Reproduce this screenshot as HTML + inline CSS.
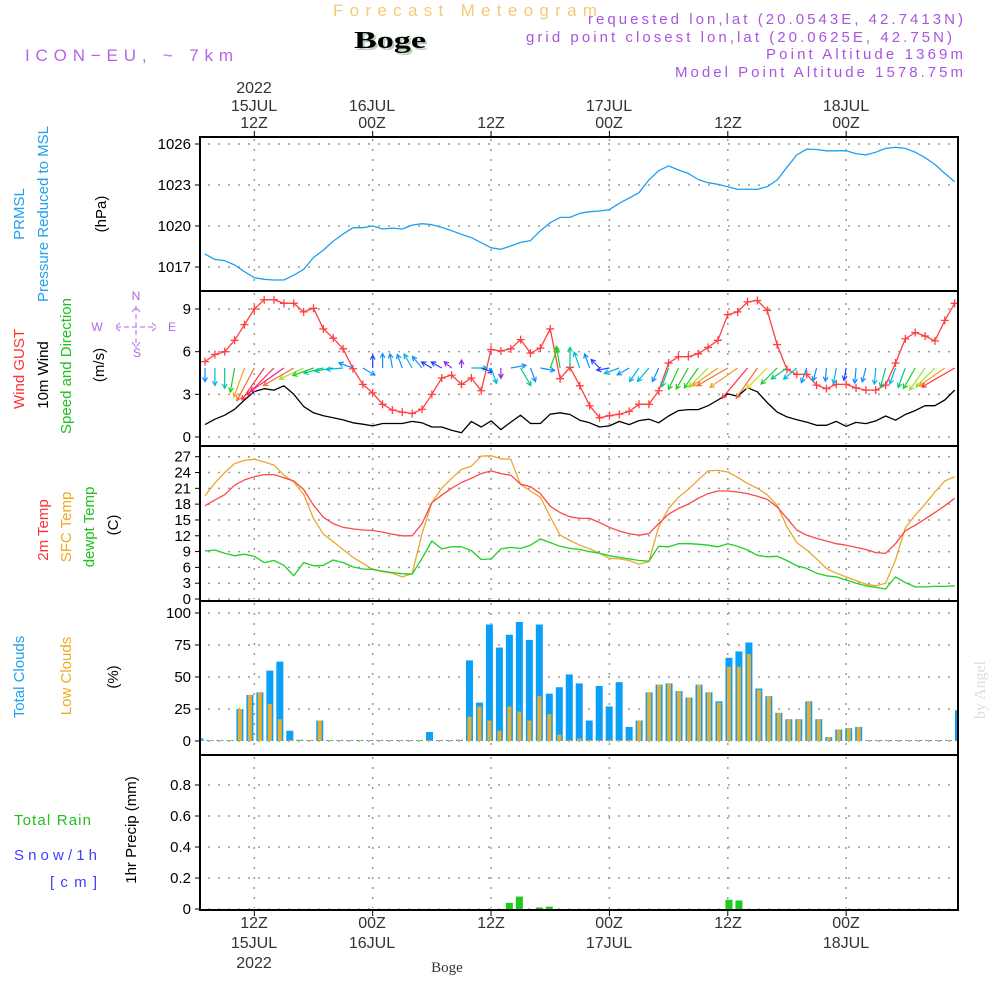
<!DOCTYPE html>
<html><head><meta charset="utf-8"><style>
html,body{margin:0;padding:0;background:#fff;}
svg{display:block;font-family:"Liberation Sans",sans-serif;}
</style></head><body>
<svg id="chart" xmlns="http://www.w3.org/2000/svg" width="1000" height="1000" viewBox="0 0 1000 1000">
<rect x="0" y="0" width="1000" height="1000" fill="#fff"/>
<g id="header">
<text x="333" y="16" font-size="17" fill="#f5c97a" textLength="264" lengthAdjust="spacing">Forecast Meteogram</text>
<text x="356" y="50" font-size="24" font-weight="bold" font-family="Liberation Serif,serif" fill="#b8d0b8" textLength="72" lengthAdjust="spacingAndGlyphs">Boge</text>
<text x="354" y="48" font-size="24" font-weight="bold" font-family="Liberation Serif,serif" fill="#000" textLength="72" lengthAdjust="spacingAndGlyphs">Boge</text>
<text x="25" y="61" font-size="17" fill="#b565e8" textLength="208" lengthAdjust="spacing">ICON−EU, ~ 7km</text>
<text x="588" y="24" font-size="15" fill="#a855e0" textLength="375" lengthAdjust="spacing">requested lon,lat (20.0543E, 42.7413N)</text>
<text x="526" y="42" font-size="15" fill="#a855e0" textLength="426" lengthAdjust="spacing">grid point closest lon,lat (20.0625E, 42.75N)</text>
<text x="766" y="59" font-size="15" fill="#a855e0" textLength="197" lengthAdjust="spacing">Point Altitude 1369m</text>
<text x="675" y="77" font-size="15" fill="#a855e0" textLength="288" lengthAdjust="spacing">Model Point Altitude 1578.75m</text>
</g>
<g id="leftlabels" font-size="15">
<text transform="translate(24,214) rotate(-90)" text-anchor="middle" fill="#20a0f0">PRMSL</text>
<text transform="translate(48,214) rotate(-90)" text-anchor="middle" fill="#20a0f0">Pressure Reduced to MSL</text>
<text transform="translate(106,214) rotate(-90)" text-anchor="middle" fill="#000">(hPa)</text>
<text transform="translate(24,369) rotate(-90)" text-anchor="middle" fill="#ff3030">Wind GUST</text>
<text transform="translate(48,375) rotate(-90)" text-anchor="middle" fill="#000">10m Wind</text>
<text transform="translate(71,366) rotate(-90)" text-anchor="middle" fill="#20c020">Speed and Direction</text>
<text transform="translate(104,365) rotate(-90)" text-anchor="middle" fill="#000">(m/s)</text>
<text transform="translate(48,530) rotate(-90)" text-anchor="middle" fill="#ff3030">2m Temp</text>
<text transform="translate(71,527) rotate(-90)" text-anchor="middle" fill="#f0a820">SFC Temp</text>
<text transform="translate(94,527) rotate(-90)" text-anchor="middle" fill="#20c020">dewpt Temp</text>
<text transform="translate(118,525) rotate(-90)" text-anchor="middle" fill="#000">(C)</text>
<text transform="translate(24,677) rotate(-90)" text-anchor="middle" fill="#20a0f0">Total Clouds</text>
<text transform="translate(71,676) rotate(-90)" text-anchor="middle" fill="#f0a820">Low Clouds</text>
<text transform="translate(118,677) rotate(-90)" text-anchor="middle" fill="#000">(%)</text>
<text transform="translate(136,830) rotate(-90)" text-anchor="middle" fill="#000">1hr Precip (mm)</text>
<text x="14" y="825" fill="#20c020" font-size="15" textLength="77" lengthAdjust="spacing">Total  Rain</text>
<text x="14" y="860" fill="#4040ff" font-size="15" textLength="83" lengthAdjust="spacing">Snow/1h</text>
<text x="50" y="887" fill="#4040ff" font-size="15" textLength="47" lengthAdjust="spacing">[cm]</text>
<text transform="translate(985,690) rotate(-90)" text-anchor="middle" fill="#dcdcdc" font-family="Liberation Serif,serif" font-size="16">by Angel</text>
</g>
<g id="compass" fill="#b565e8" font-size="12">
<text x="136" y="300" text-anchor="middle">N</text>
<text x="137" y="357" text-anchor="middle">S</text>
<text x="97" y="331" text-anchor="middle">W</text>
<text x="172" y="331" text-anchor="middle">E</text>
<path d="M116 327 H156 M136 306 V348 M120 323 L115 327 L120 331 M152 323 L157 327 L152 331 M132 312 L136 307 L140 312 M132 342 L136 347 L140 342" stroke="#b565e8" stroke-width="1" fill="none" stroke-dasharray="5 3"/>
</g>
<g id="plots"></g>
<g id="timelabels" font-size="16" fill="#333">
<text x="254" y="93" text-anchor="middle">2022</text>
<text x="254" y="111" text-anchor="middle">15JUL</text>
<text x="254" y="128" text-anchor="middle">12Z</text>
<text x="372" y="111" text-anchor="middle">16JUL</text>
<text x="372" y="128" text-anchor="middle">00Z</text>
<text x="491" y="128" text-anchor="middle">12Z</text>
<text x="609" y="111" text-anchor="middle">17JUL</text>
<text x="609" y="128" text-anchor="middle">00Z</text>
<text x="728" y="128" text-anchor="middle">12Z</text>
<text x="846" y="111" text-anchor="middle">18JUL</text>
<text x="846" y="128" text-anchor="middle">00Z</text>
<text x="254" y="928" text-anchor="middle">12Z</text>
<text x="254" y="948" text-anchor="middle">15JUL</text>
<text x="254" y="968" text-anchor="middle">2022</text>
<text x="372" y="928" text-anchor="middle">00Z</text>
<text x="372" y="948" text-anchor="middle">16JUL</text>
<text x="491" y="928" text-anchor="middle">12Z</text>
<text x="609" y="928" text-anchor="middle">00Z</text>
<text x="609" y="948" text-anchor="middle">17JUL</text>
<text x="728" y="928" text-anchor="middle">12Z</text>
<text x="846" y="928" text-anchor="middle">00Z</text>
<text x="846" y="948" text-anchor="middle">18JUL</text>
<text x="447" y="972" text-anchor="middle" font-size="15" font-family="Liberation Serif,serif">Boge</text>
</g>
</svg>
<script>
const pressure=[1017.95,1017.56,1017.46,1017.15,1016.66,1016.22,1016.1,1016.05,1016.05,1016.4,1016.83,1017.7,1018.24,1018.9,1019.41,1019.88,1019.88,1020.0,1019.78,1019.85,1019.78,1020.07,1020.17,1020.1,1019.9,1019.66,1019.39,1019.15,1018.78,1018.41,1018.3,1018.54,1018.8,1018.93,1019.66,1020.24,1020.63,1020.63,1020.93,1021.05,1021.1,1021.2,1021.66,1022.05,1022.44,1023.37,1024.05,1024.4,1024.1,1023.85,1023.4,1023.17,1023.05,1022.88,1022.68,1022.7,1022.68,1022.88,1023.37,1024.3,1025.2,1025.63,1025.6,1025.5,1025.5,1025.5,1025.3,1025.2,1025.4,1025.68,1025.76,1025.68,1025.4,1025.0,1024.5,1023.85,1023.24];
const windGust=[5.3,5.8,6.0,6.8,7.9,9.0,9.65,9.65,9.4,9.4,8.8,9.05,7.6,6.95,6.2,4.8,3.7,3.1,2.3,1.9,1.75,1.65,1.95,3.0,4.15,4.35,3.7,4.15,3.25,6.15,6.05,6.2,6.85,5.9,6.25,7.6,4.1,4.9,3.6,2.2,1.35,1.5,1.6,1.8,2.3,2.3,3.25,5.2,5.65,5.65,5.85,6.3,6.8,8.6,8.8,9.5,9.6,8.9,6.5,4.75,4.4,4.4,3.65,3.4,3.7,3.7,3.45,3.3,3.3,3.65,5.2,6.9,7.35,7.1,6.75,8.2,9.4];
const windSpeed=[0.87,1.25,1.53,1.95,2.6,3.2,3.4,3.3,3.6,3.0,2.15,1.7,1.5,1.35,1.2,1.0,0.9,0.78,0.95,0.95,0.95,1.1,1.0,0.7,0.7,0.47,0.3,1.1,0.7,1.13,0.52,1.05,1.53,0.95,0.95,1.6,1.7,1.58,1.18,1.0,0.7,0.78,1.1,0.87,1.15,1.25,1.0,1.48,1.86,1.93,1.93,2.2,2.6,3.03,2.87,3.46,3.18,2.42,1.76,1.41,1.22,1.05,0.82,0.82,1.1,0.75,1.03,0.94,1.13,1.48,1.18,1.58,1.86,2.2,2.2,2.6,3.3];
const windToDeg=[180,180,180,190,200,208,215,225,235,240,245,250,255,260,265,290,120,0,0,350,340,330,320,300,300,310,0,90,110,160,180,80,150,160,100,20,350,0,340,340,315,260,250,240,215,220,205,200,205,210,215,225,235,240,235,220,215,225,225,235,230,200,195,185,190,190,185,195,185,195,200,200,210,215,225,235,240];
const temp2m=[17.7,18.8,19.8,21.6,22.6,23.2,23.6,23.6,23.0,22.4,20.8,17.8,15.5,14.3,13.6,13.3,13.1,13.0,12.7,12.3,12.0,12.0,14.3,18.3,19.7,21.0,22.1,22.9,23.8,24.3,23.8,23.5,21.8,21.3,20.0,17.6,16.4,15.6,15.3,15.3,14.5,13.6,12.9,12.4,12.1,12.4,14.3,16.1,17.2,18.0,19.1,20.0,20.5,20.5,20.3,20.0,19.5,18.9,17.5,15.3,13.1,12.1,11.5,11.0,10.5,10.2,9.8,9.4,8.8,8.65,10.5,12.95,14.0,15.2,16.4,17.7,19.1];
const tempSfc=[19.6,22.0,24.0,25.7,26.3,26.5,26.0,25.4,23.5,22.2,19.9,15.3,12.3,10.9,9.4,7.9,6.8,5.6,5.2,4.9,4.2,4.8,12.4,18.3,21.0,22.9,24.6,25.2,27.1,27.2,26.6,26.5,21.7,20.5,19.3,15.6,12.1,11.1,10.2,9.5,8.7,7.7,7.6,7.3,6.6,7.1,13.7,17.2,19.3,20.8,22.6,24.3,24.4,24.1,23.1,21.9,21.0,19.8,17.8,13.7,10.7,9.3,7.6,5.8,4.9,4.2,3.5,2.8,2.5,3.0,7.4,13.5,15.9,18.0,20.3,22.4,23.2];
const tempDew=[9.1,9.3,8.7,8.2,8.5,8.1,6.9,7.3,6.4,4.4,6.9,6.3,6.4,7.4,6.9,6.1,5.7,5.6,5.3,5.0,4.8,4.7,7.7,11.0,9.5,9.9,9.9,9.2,7.5,7.6,9.5,9.8,9.6,10.2,11.4,10.7,10.0,9.6,9.4,9.0,8.7,8.2,7.9,7.6,7.3,7.2,10.0,9.9,10.5,10.5,10.4,10.2,9.9,10.5,10.0,9.3,8.3,8.0,8.1,7.3,6.3,5.8,4.9,4.4,4.2,3.6,3.0,2.5,2.2,1.9,4.2,3.1,2.3,2.3,2.4,2.4,2.5];
const totalClouds=[2,0,0,0,25,36,38,55,62,8,1,0,16,0,0,0,0,0,0,0,0,0,0,7,0,0,1,63,30,91,73,83,93,79,91,37,42,52,45,16,43,27,46,11,16,38,44,45,39,34,44,38,31,65,70,77,41,35,22,17,17,31,17,3,9,10,11,0,0,0,0,0,0,0,0,0,24];
const lowClouds=[0,0,0,0,25,36,38,29,17,0,0,0,16,0,0,0,0,0,0,0,0,0,0,0,0,0,1,19,27,16,8,27,23,16,35,21,5,0,2,0,0,0,0,0,16,38,44,45,39,34,44,38,30,58,58,68,40,35,22,17,17,31,17,3,9,10,11,0,0,0,0,0,0,0,0,0,0];
const precip=[0,0,0,0,0,0,0,0,0,0,0,0,0,0,0,0,0,0,0,0,0,0,0,0,0,0,0,0,0,0,0,0.04,0.08,0,0.01,0.015,0,0,0,0,0,0,0,0,0,0,0,0,0,0,0,0,0,0.06,0.055,0,0,0,0,0,0,0,0,0,0,0,0,0,0,0,0,0,0,0,0,0,0];
const pressureTicks=[1017,1020,1023,1026];
const windTicks=[0,3,6,9];
const tempTicks=[0,3,6,9,12,15,18,21,24,27];
const cloudTicks=[0,25,50,75,100];
const precipTicks=[0,0.2,0.4,0.6,0.8];
const timeTickHours=[5,17,29,41,53,65];

const NS='http://www.w3.org/2000/svg';
const plots=document.getElementById('plots');
const X0=200,X1=958;
function xL(i){return 205+9.864*i;}
function xB(b){return 200+9.98*b;}
const yP=v=>144+(1026-v)*13.67;
const yW=v=>437-v*14.22;
const yT=v=>599-v*5.27;
const yC=v=>741-v*1.28;
const yR=v=>909-v*155;
const panels=[{t:137,b:291,n:'pressure'},{t:291,b:446,n:'wind'},{t:446,b:601,n:'temp'},{t:601,b:755,n:'clouds'},{t:755,b:910,n:'precip'}];
function mk(tag,attrs,parent){const e=document.createElementNS(NS,tag);for(const k in attrs)e.setAttribute(k,attrs[k]);(parent||plots).appendChild(e);return e;}

const defs=mk('defs',{});
const cp=mk('clipPath',{id:'plotclip'},defs);
mk('rect',{x:X0,y:137,width:X1-X0,height:773},cp);

panels.forEach(p=>{
  timeTickHours.forEach(h=>{
    const g=mk('line',{x1:xL(h),x2:xL(h),y1:p.t+2,y2:p.b-2,stroke:'#999','stroke-width':1.5,'stroke-dasharray':'2 8'});
    
    
  });
});
function hgrid(ticks,yf,name,fmt){
  ticks.forEach(t=>{
    const y=yf(t);
    const g=mk('line',{x1:X0+8,x2:X1-4,y1:y,y2:y,stroke:'#999','stroke-width':1.5,'stroke-dasharray':'2 8'});
    
    
    const tk=mk('line',{x1:X0-5,x2:X0,y1:y,y2:y,stroke:'#000','stroke-width':1});
    
    
    const lb=mk('text',{x:X0-9,y:y+5,'text-anchor':'end','font-size':15,fill:'#000'});
    lb.textContent=fmt?fmt(t):String(t);
    
    
  });
}
hgrid(pressureTicks,yP,'pressure-axis');
hgrid(windTicks,yW,'wind-axis');
hgrid(tempTicks,yT,'temp-axis');
hgrid(cloudTicks,yC,'cloud-axis');
hgrid(precipTicks,yR,'precip-axis',t=>t===0?'0':t.toFixed(1));

timeTickHours.forEach(h=>{
  const a=mk('line',{x1:xL(h),x2:xL(h),y1:131,y2:137,stroke:'#000','stroke-width':1});
  
  
  const b=mk('line',{x1:xL(h),x2:xL(h),y1:910,y2:916,stroke:'#000','stroke-width':1});
  
  
});

const clipG=mk('g',{'clip-path':'url(#plotclip)'});



function line(arr,yf,color,name,w){
  const d=arr.map((v,i)=>(i?'L':'M')+xL(i).toFixed(1)+' '+yf(v).toFixed(1)).join(' ');
  const p=mk('path',{d:d,fill:'none',stroke:color,'stroke-width':w||1.3,'stroke-linejoin':'round'},clipG);
  
  
}
line(pressure,yP,'#1ea0f0','pressure-line');
line(windSpeed,yW,'#000','wind-speed-line');
line(windGust,yW,'#ff4040','wind-gust-line');
windGust.forEach((v,i)=>{
  const x=xL(i),y=yW(v);
  const m=mk('path',{d:`M${x-4} ${y} H${x+4} M${x} ${y-4} V${y+4}`,stroke:'#ff4040','stroke-width':1.3},clipG);
  
  
});
function spdColor(s){
  if(s<0.55)return '#8a2be2';
  if(s<0.8)return '#2040ff';
  if(s<1.1)return '#1090ff';
  if(s<1.3)return '#00b8e0';
  if(s<1.6)return '#00c890';
  if(s<2.0)return '#20d020';
  if(s<2.3)return '#a0e030';
  if(s<2.6)return '#e0d020';
  if(s<3.0)return '#f0a020';
  if(s<3.3)return '#f07030';
  if(s<3.5)return '#ff3040';
  return '#f0209a';
}
windSpeed.forEach((s,i)=>{
  const a=windToDeg[i]*Math.PI/180,len=5+10*s;
  const x1=xL(i),y1=368,x2=x1+Math.sin(a)*len,y2=y1-Math.cos(a)*len;
  const hl=5,ha=0.5;
  const hx1=x2-Math.sin(a-ha)*hl,hy1=y2+Math.cos(a-ha)*hl;
  const hx2=x2-Math.sin(a+ha)*hl,hy2=y2+Math.cos(a+ha)*hl;
  const c=spdColor(s);
  const ar=mk('path',{d:`M${x1.toFixed(1)} ${y1} L${x2.toFixed(1)} ${y2.toFixed(1)} M${hx1.toFixed(1)} ${hy1.toFixed(1)} L${x2.toFixed(1)} ${y2.toFixed(1)} L${hx2.toFixed(1)} ${hy2.toFixed(1)}`,stroke:c,'stroke-width':1.2,fill:'none'},clipG);
  
  
});
line(tempSfc,yT,'#eaa830','sfc-temp-line');
line(temp2m,yT,'#ff4848','temp-2m-line');
line(tempDew,yT,'#20d020','dewpoint-line');

totalClouds.forEach((v,b)=>{
  const x=xB(b),y=yC(v),h=Math.max(1,741-y);
  const r=mk('rect',{x:x-3.5,y:741-h,width:7,height:h,fill:'#0aa0f8'},clipG);
  
  
});
lowClouds.forEach((v,b)=>{
  const x=xB(b),y=yC(v),h=Math.max(1,741-y);
  const r=mk('rect',{x:x-2,y:741-h,width:4,height:h,fill:'#e8ac30'},clipG);
  
  
});
precip.forEach((v,b)=>{
  if(v<=0)return;
  const x=xB(b),y=yR(v);
  const r=mk('rect',{x:x-3.5,y:y,width:7,height:909-y,fill:'#20c820'},clipG);
  
  
});

panels.forEach(p=>{
  const f=mk('rect',{x:X0,y:p.t,width:X1-X0,height:p.b-p.t,fill:'none',stroke:'#000','stroke-width':2});
  
  
});
</script>
</body></html>
